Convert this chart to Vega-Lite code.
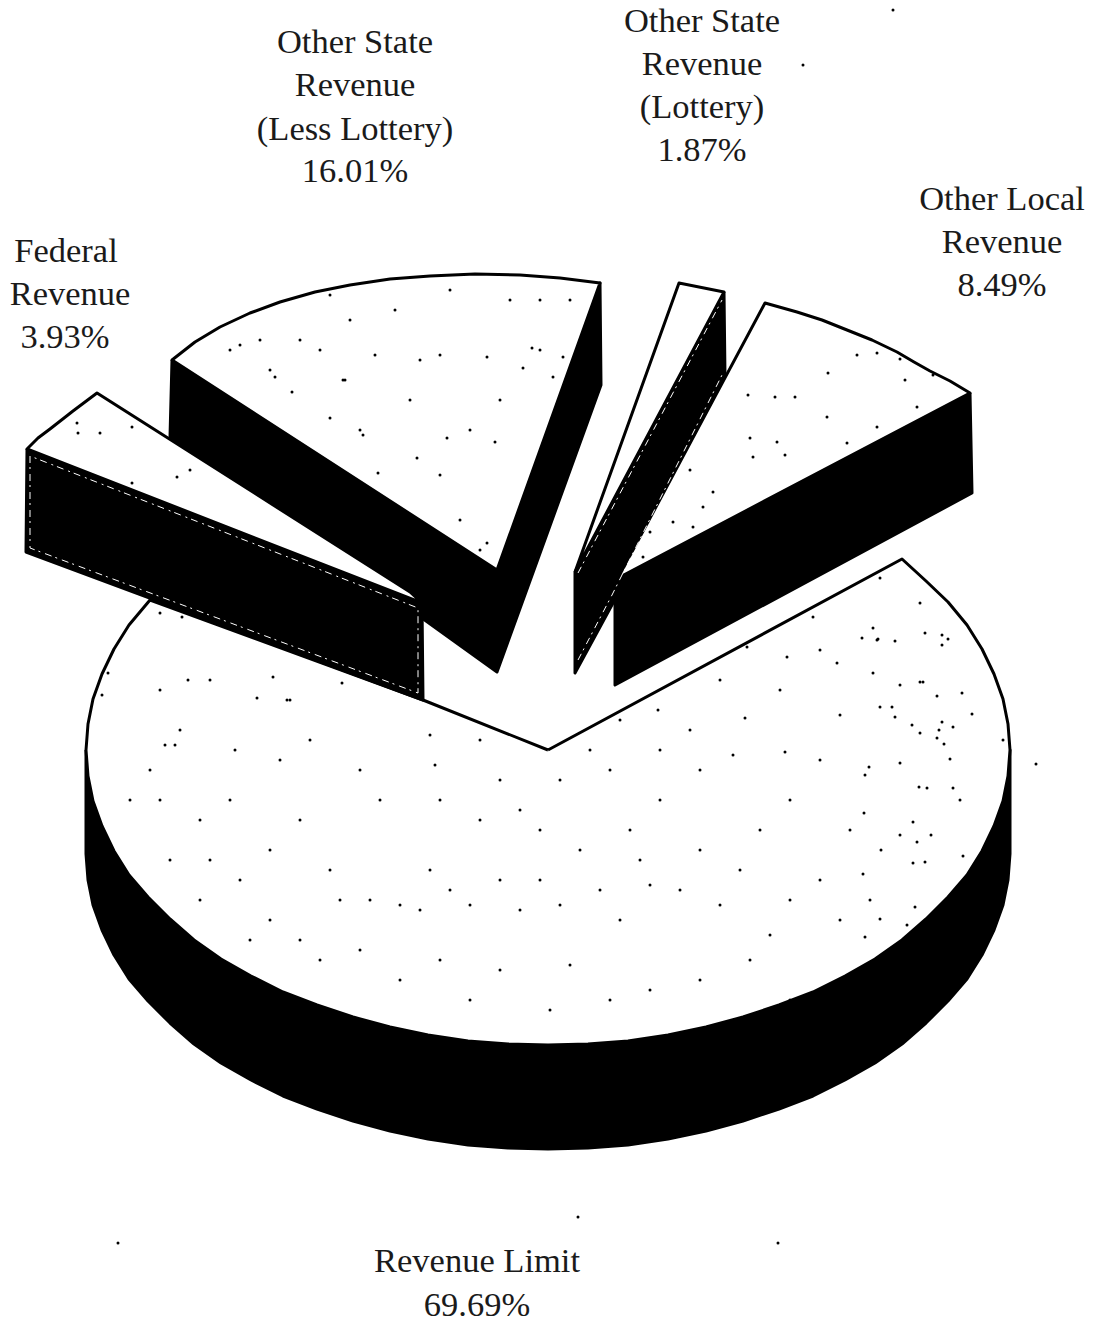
{
"$schema":"https://vega.github.io/schema/vega-lite/v6.json",
"width":1097,"height":1323,"padding":0,"autosize":{"type":"none"},
"background":"white","config":{"view":{"stroke":null}},
"encoding":{
 "x":{"field":"x","type":"quantitative","scale":{"domain":[0,1097],"range":[0,1097],"nice":false,"zero":false},"axis":null},
 "y":{"field":"y","type":"quantitative","scale":{"domain":[0,1323],"range":[0,1323],"nice":false,"zero":false},"axis":null}
},
"datasets":{
"shapes":[
{"part":"limit side","tone":"side","i":0,"x":86,"y":750},{"part":"limit side","tone":"side","i":1,"x":86,"y":854},{"part":"limit side","tone":"side","i":2,"x":88,"y":880},{"part":"limit side","tone":"side","i":3,"x":93,"y":905},{"part":"limit side","tone":"side","i":4,"x":102,"y":930},{"part":"limit side","tone":"side","i":5,"x":114,"y":955},{"part":"limit side","tone":"side","i":6,"x":129,"y":979},{"part":"limit side","tone":"side","i":7,"x":148,"y":1001},{"part":"limit side","tone":"side","i":8,"x":170,"y":1023},{"part":"limit side","tone":"side","i":9,"x":194,"y":1044},{"part":"limit side","tone":"side","i":10,"x":221,"y":1063},{"part":"limit side","tone":"side","i":11,"x":251,"y":1080},{"part":"limit side","tone":"side","i":12,"x":283,"y":1096},{"part":"limit side","tone":"side","i":13,"x":317,"y":1109},{"part":"limit side","tone":"side","i":14,"x":353,"y":1121},{"part":"limit side","tone":"side","i":15,"x":390,"y":1131},{"part":"limit side","tone":"side","i":16,"x":428,"y":1139},{"part":"limit side","tone":"side","i":17,"x":468,"y":1145},{"part":"limit side","tone":"side","i":18,"x":508,"y":1148},{"part":"limit side","tone":"side","i":19,"x":548,"y":1149},{"part":"limit side","tone":"side","i":20,"x":588,"y":1148},{"part":"limit side","tone":"side","i":21,"x":628,"y":1145},{"part":"limit side","tone":"side","i":22,"x":668,"y":1139},{"part":"limit side","tone":"side","i":23,"x":706,"y":1131},{"part":"limit side","tone":"side","i":24,"x":743,"y":1121},{"part":"limit side","tone":"side","i":25,"x":779,"y":1109},{"part":"limit side","tone":"side","i":26,"x":813,"y":1096},{"part":"limit side","tone":"side","i":27,"x":845,"y":1080},{"part":"limit side","tone":"side","i":28,"x":875,"y":1063},{"part":"limit side","tone":"side","i":29,"x":902,"y":1044},{"part":"limit side","tone":"side","i":30,"x":926,"y":1023},{"part":"limit side","tone":"side","i":31,"x":948,"y":1001},{"part":"limit side","tone":"side","i":32,"x":967,"y":979},{"part":"limit side","tone":"side","i":33,"x":982,"y":955},{"part":"limit side","tone":"side","i":34,"x":994,"y":930},{"part":"limit side","tone":"side","i":35,"x":1003,"y":905},{"part":"limit side","tone":"side","i":36,"x":1008,"y":880},{"part":"limit side","tone":"side","i":37,"x":1010,"y":854},{"part":"limit side","tone":"side","i":38,"x":1010,"y":750},{"part":"limit side","tone":"side","i":39,"x":86,"y":750},
{"part":"limit top","tone":"face","i":0,"x":548,"y":750},{"part":"limit top","tone":"face","i":1,"x":902,"y":559},{"part":"limit top","tone":"face","i":2,"x":926,"y":581},{"part":"limit top","tone":"face","i":3,"x":948,"y":602},{"part":"limit top","tone":"face","i":4,"x":967,"y":625},{"part":"limit top","tone":"face","i":5,"x":982,"y":649},{"part":"limit top","tone":"face","i":6,"x":994,"y":674},{"part":"limit top","tone":"face","i":7,"x":1003,"y":699},{"part":"limit top","tone":"face","i":8,"x":1008,"y":724},{"part":"limit top","tone":"face","i":9,"x":1010,"y":750},{"part":"limit top","tone":"face","i":10,"x":1008,"y":776},{"part":"limit top","tone":"face","i":11,"x":1003,"y":801},{"part":"limit top","tone":"face","i":12,"x":994,"y":826},{"part":"limit top","tone":"face","i":13,"x":982,"y":851},{"part":"limit top","tone":"face","i":14,"x":967,"y":875},{"part":"limit top","tone":"face","i":15,"x":948,"y":897},{"part":"limit top","tone":"face","i":16,"x":926,"y":919},{"part":"limit top","tone":"face","i":17,"x":902,"y":940},{"part":"limit top","tone":"face","i":18,"x":875,"y":959},{"part":"limit top","tone":"face","i":19,"x":845,"y":976},{"part":"limit top","tone":"face","i":20,"x":813,"y":992},{"part":"limit top","tone":"face","i":21,"x":779,"y":1005},{"part":"limit top","tone":"face","i":22,"x":743,"y":1017},{"part":"limit top","tone":"face","i":23,"x":706,"y":1027},{"part":"limit top","tone":"face","i":24,"x":668,"y":1035},{"part":"limit top","tone":"face","i":25,"x":628,"y":1041},{"part":"limit top","tone":"face","i":26,"x":588,"y":1044},{"part":"limit top","tone":"face","i":27,"x":548,"y":1045},{"part":"limit top","tone":"face","i":28,"x":508,"y":1044},{"part":"limit top","tone":"face","i":29,"x":468,"y":1041},{"part":"limit top","tone":"face","i":30,"x":428,"y":1035},{"part":"limit top","tone":"face","i":31,"x":390,"y":1027},{"part":"limit top","tone":"face","i":32,"x":353,"y":1017},{"part":"limit top","tone":"face","i":33,"x":317,"y":1005},{"part":"limit top","tone":"face","i":34,"x":283,"y":992},{"part":"limit top","tone":"face","i":35,"x":251,"y":976},{"part":"limit top","tone":"face","i":36,"x":221,"y":959},{"part":"limit top","tone":"face","i":37,"x":194,"y":940},{"part":"limit top","tone":"face","i":38,"x":170,"y":919},{"part":"limit top","tone":"face","i":39,"x":148,"y":897},{"part":"limit top","tone":"face","i":40,"x":129,"y":875},{"part":"limit top","tone":"face","i":41,"x":114,"y":851},{"part":"limit top","tone":"face","i":42,"x":102,"y":826},{"part":"limit top","tone":"face","i":43,"x":93,"y":801},{"part":"limit top","tone":"face","i":44,"x":88,"y":776},{"part":"limit top","tone":"face","i":45,"x":86,"y":750},{"part":"limit top","tone":"face","i":46,"x":88,"y":724},{"part":"limit top","tone":"face","i":47,"x":93,"y":699},{"part":"limit top","tone":"face","i":48,"x":102,"y":674},{"part":"limit top","tone":"face","i":49,"x":114,"y":649},{"part":"limit top","tone":"face","i":50,"x":129,"y":625},{"part":"limit top","tone":"face","i":51,"x":150,"y":600},{"part":"limit top","tone":"face","i":52,"x":423,"y":700},{"part":"limit top","tone":"face","i":53,"x":548,"y":750},
{"part":"state side","tone":"side","i":0,"x":172,"y":360},{"part":"state side","tone":"side","i":1,"x":170,"y":437},{"part":"state side","tone":"side","i":2,"x":497,"y":672},{"part":"state side","tone":"side","i":3,"x":601,"y":385},{"part":"state side","tone":"side","i":4,"x":600,"y":283},{"part":"state side","tone":"side","i":5,"x":497,"y":570},{"part":"state side","tone":"side","i":6,"x":172,"y":360},
{"part":"state top","tone":"face","i":0,"x":497,"y":570},{"part":"state top","tone":"face","i":1,"x":172,"y":360},{"part":"state top","tone":"face","i":2,"x":195,"y":342},{"part":"state top","tone":"face","i":3,"x":220,"y":327},{"part":"state top","tone":"face","i":4,"x":250,"y":313},{"part":"state top","tone":"face","i":5,"x":280,"y":302},{"part":"state top","tone":"face","i":6,"x":315,"y":292},{"part":"state top","tone":"face","i":7,"x":350,"y":285},{"part":"state top","tone":"face","i":8,"x":390,"y":279},{"part":"state top","tone":"face","i":9,"x":430,"y":276},{"part":"state top","tone":"face","i":10,"x":475,"y":274},{"part":"state top","tone":"face","i":11,"x":520,"y":275},{"part":"state top","tone":"face","i":12,"x":560,"y":278},{"part":"state top","tone":"face","i":13,"x":600,"y":283},{"part":"state top","tone":"face","i":14,"x":497,"y":570},
{"part":"lottery side","tone":"side","i":0,"x":724,"y":292},{"part":"lottery side","tone":"side","i":1,"x":725,"y":377},{"part":"lottery side","tone":"side","i":2,"x":613,"y":603},{"part":"lottery side","tone":"side","i":3,"x":575,"y":673},{"part":"lottery side","tone":"side","i":4,"x":575,"y":572},{"part":"lottery side","tone":"side","i":5,"x":724,"y":292},
{"part":"lottery top","tone":"face","i":0,"x":575,"y":572},{"part":"lottery top","tone":"face","i":1,"x":679,"y":283},{"part":"lottery top","tone":"face","i":2,"x":724,"y":292},{"part":"lottery top","tone":"face","i":3,"x":575,"y":572},
{"part":"local side","tone":"side","i":0,"x":970,"y":393},{"part":"local side","tone":"side","i":1,"x":972,"y":493},{"part":"local side","tone":"side","i":2,"x":615,"y":685},{"part":"local side","tone":"side","i":3,"x":615,"y":580},{"part":"local side","tone":"side","i":4,"x":970,"y":393},
{"part":"local top","tone":"face","i":0,"x":618,"y":578},{"part":"local top","tone":"face","i":1,"x":765,"y":303},{"part":"local top","tone":"face","i":2,"x":797,"y":312},{"part":"local top","tone":"face","i":3,"x":822,"y":320},{"part":"local top","tone":"face","i":4,"x":847,"y":330},{"part":"local top","tone":"face","i":5,"x":872,"y":340},{"part":"local top","tone":"face","i":6,"x":897,"y":352},{"part":"local top","tone":"face","i":7,"x":914,"y":362},{"part":"local top","tone":"face","i":8,"x":930,"y":371},{"part":"local top","tone":"face","i":9,"x":950,"y":381},{"part":"local top","tone":"face","i":10,"x":970,"y":393},{"part":"local top","tone":"face","i":11,"x":618,"y":578},
{"part":"federal side","tone":"side","i":0,"x":27,"y":449},{"part":"federal side","tone":"side","i":1,"x":26,"y":552},{"part":"federal side","tone":"side","i":2,"x":423,"y":700},{"part":"federal side","tone":"side","i":3,"x":422,"y":603},{"part":"federal side","tone":"side","i":4,"x":27,"y":449},
{"part":"federal top","tone":"face","i":0,"x":422,"y":603},{"part":"federal top","tone":"face","i":1,"x":410,"y":592},{"part":"federal top","tone":"face","i":2,"x":97,"y":393},{"part":"federal top","tone":"face","i":3,"x":73,"y":411},{"part":"federal top","tone":"face","i":4,"x":50,"y":429},{"part":"federal top","tone":"face","i":5,"x":38,"y":438},{"part":"federal top","tone":"face","i":6,"x":27,"y":449},{"part":"federal top","tone":"face","i":7,"x":422,"y":603}
],
"seams":[
{"part":"federal","i":0,"x":30,"y":456},{"part":"federal","i":1,"x":30,"y":548},{"part":"federal","i":2,"x":418,"y":693},{"part":"federal","i":3,"x":418,"y":608},{"part":"federal","i":4,"x":30,"y":456},
{"part":"lottery","i":0,"x":578,"y":660},{"part":"lottery","i":1,"x":612,"y":595},{"part":"lottery","i":2,"x":722,"y":375},
{"part":"lottery2","i":0,"x":578,"y":573},{"part":"lottery2","i":1,"x":722,"y":300}
],
"specks":[
{"x":873,"y":628},{"x":862,"y":638},{"x":878,"y":639},{"x":895,"y":641},{"x":925,"y":633},{"x":942,"y":635},{"x":948,"y":639},{"x":942,"y":645},{"x":873,"y":673},{"x":923,"y":682},{"x":900,"y":685},{"x":937,"y":696},{"x":962,"y":693},{"x":972,"y":714},{"x":880,"y":707},{"x":892,"y":707},{"x":895,"y":717},{"x":912,"y":725},{"x":920,"y":733},{"x":942,"y":722},{"x":953,"y":727},{"x":939,"y":730},{"x":937,"y":738},{"x":944,"y":744},{"x":1003,"y":740},{"x":950,"y":759},{"x":900,"y":763},{"x":869,"y":767},{"x":865,"y":775},{"x":919,"y":787},{"x":927,"y":788},{"x":953,"y":788},{"x":864,"y":813},{"x":913,"y":822},{"x":900,"y":835},{"x":931,"y":835},{"x":917,"y":842},{"x":881,"y":850},{"x":963,"y":856},{"x":913,"y":863},{"x":925,"y":862},{"x":863,"y":874},{"x":870,"y":900},{"x":915,"y":907},{"x":880,"y":919},{"x":907,"y":925},{"x":865,"y":937},
{"x":658,"y":710},{"x":820,"y":650},{"x":747,"y":647},{"x":840,"y":715},{"x":745,"y":718},{"x":785,"y":752},{"x":733,"y":755},{"x":660,"y":750},{"x":837,"y":663},{"x":877,"y":640},{"x":787,"y":657},{"x":920,"y":603},{"x":880,"y":578},{"x":813,"y":617},{"x":920,"y":682},
{"x":750,"y":438},{"x":777,"y":442},{"x":828,"y":373},{"x":857,"y":355},{"x":877,"y":353},{"x":900,"y":359},{"x":933,"y":375},{"x":905,"y":380},{"x":775,"y":397},{"x":795,"y":397},{"x":748,"y":395},{"x":827,"y":417},{"x":785,"y":455},{"x":753,"y":457},{"x":877,"y":427},{"x":847,"y":443},{"x":713,"y":492},{"x":703,"y":507},{"x":690,"y":470},{"x":917,"y":407},{"x":673,"y":522},{"x":693,"y":527},{"x":650,"y":532},{"x":643,"y":557},
{"x":597,"y":302},{"x":563,"y":357},{"x":532,"y":348},{"x":487,"y":357},{"x":523,"y":368},{"x":487,"y":543},{"x":495,"y":442},{"x":553,"y":377},{"x":345,"y":380},{"x":300,"y":340},{"x":230,"y":350},{"x":420,"y":360},{"x":360,"y":430},{"x":440,"y":475},{"x":480,"y":550},{"x":460,"y":520},{"x":270,"y":370},{"x":395,"y":310},{"x":450,"y":290},{"x":510,"y":300},{"x":540,"y":350},{"x":330,"y":295},{"x":260,"y":340},{"x":410,"y":400},{"x":240,"y":345},{"x":320,"y":350},{"x":375,"y":355},{"x":440,"y":355},{"x":500,"y":400},{"x":470,"y":430},{"x":540,"y":300},{"x":570,"y":300},{"x":350,"y":320},
{"x":77,"y":423},{"x":78,"y":433},{"x":100,"y":433},{"x":132,"y":427},{"x":177,"y":477},{"x":190,"y":470},{"x":132,"y":483},{"x":275,"y":377},{"x":292,"y":392},{"x":343,"y":380},{"x":330,"y":418},{"x":363,"y":435},{"x":447,"y":438},{"x":417,"y":458},{"x":408,"y":517},{"x":378,"y":473},
{"x":210,"y":680},{"x":273,"y":677},{"x":287,"y":700},{"x":257,"y":698},{"x":342,"y":683},{"x":160,"y":613},{"x":182,"y":617},{"x":188,"y":680},{"x":108,"y":673},{"x":102,"y":695},
{"x":435,"y":765},{"x":430,"y":735},{"x":180,"y":730},{"x":165,"y":745},{"x":290,"y":700},{"x":130,"y":800},{"x":160,"y":800},{"x":235,"y":750},{"x":300,"y":820},{"x":270,"y":920},{"x":200,"y":900},{"x":340,"y":900},{"x":400,"y":905},{"x":450,"y":890},{"x":500,"y":880},{"x":540,"y":880},{"x":600,"y":890},{"x":650,"y":885},{"x":720,"y":905},{"x":790,"y":900},{"x":840,"y":920},{"x":480,"y":820},{"x":520,"y":810},{"x":580,"y":850},{"x":630,"y":830},{"x":700,"y":770},{"x":790,"y":800},{"x":820,"y":760},{"x":470,"y":1000},{"x":550,"y":1010},{"x":650,"y":990},{"x":750,"y":960},{"x":790,"y":1000},{"x":400,"y":980},{"x":320,"y":960},{"x":250,"y":940},{"x":200,"y":820},{"x":380,"y":800},{"x":280,"y":760},{"x":160,"y":690},{"x":480,"y":740},{"x":560,"y":780},{"x":610,"y":770},{"x":660,"y":800},{"x":850,"y":830},{"x":960,"y":800},
{"x":175,"y":745},{"x":150,"y":770},{"x":230,"y":800},{"x":270,"y":850},{"x":330,"y":870},{"x":370,"y":900},{"x":420,"y":910},{"x":430,"y":870},{"x":470,"y":905},{"x":520,"y":910},{"x":560,"y":905},{"x":620,"y":920},{"x":680,"y":890},{"x":740,"y":870},{"x":760,"y":830},{"x":700,"y":850},{"x":640,"y":860},{"x":540,"y":830},{"x":500,"y":780},{"x":440,"y":800},{"x":360,"y":770},{"x":310,"y":740},{"x":210,"y":860},{"x":240,"y":880},{"x":170,"y":860},{"x":300,"y":940},{"x":360,"y":950},{"x":440,"y":960},{"x":500,"y":970},{"x":570,"y":965},{"x":610,"y":1000},{"x":700,"y":980},{"x":770,"y":935},{"x":820,"y":880},{"x":780,"y":690},{"x":720,"y":680},{"x":690,"y":730},{"x":620,"y":720},{"x":590,"y":750},
{"x":893,"y":10},{"x":803,"y":65},{"x":1036,"y":764},{"x":118,"y":1243},{"x":578,"y":1217},{"x":778,"y":1243}
],
"labels":[
{"label":"Other State","x":355,"y":43},{"label":"Revenue","x":355,"y":86},{"label":"(Less Lottery)","x":355,"y":130},{"label":"16.01%","x":355,"y":172},
{"label":"Other State","x":702,"y":22},{"label":"Revenue","x":702,"y":65},{"label":"(Lottery)","x":702,"y":108},{"label":"1.87%","x":702,"y":151},
{"label":"Other Local","x":1002,"y":200},{"label":"Revenue","x":1002,"y":243},{"label":"8.49%","x":1002,"y":286},
{"label":"Federal","x":66,"y":252},{"label":"Revenue","x":70,"y":295},{"label":"3.93%","x":65,"y":338},
{"label":"Revenue Limit","x":477,"y":1262},{"label":"69.69%","x":477,"y":1306}
]},
"layer":[
{"data":{"name":"shapes"},
 "mark":{"type":"line","stroke":"black","strokeWidth":3,"strokeJoin":"round"},
 "encoding":{
  "detail":{"field":"part"},
  "order":{"field":"i","type":"ordinal"},
  "fill":{"field":"tone","type":"nominal","scale":{"domain":["face","side"],"range":["white","black"]},"legend":null}
 }},
{"data":{"name":"seams"},
 "mark":{"type":"line","stroke":"white","strokeWidth":1,"strokeDash":[7,4,2,5]},
 "encoding":{
  "detail":{"field":"part"},
  "order":{"field":"i","type":"ordinal"}
 }},
{"data":{"name":"specks"},
 "mark":{"type":"point","filled":true,"fill":"black","stroke":null,"size":9,"opacity":1},
 "encoding":{}},
{"data":{"name":"labels"},
 "mark":{"type":"text","font":"Liberation Serif","fontSize":34.5,"fill":"#1a1a1a","align":"center","baseline":"middle"},
 "encoding":{"text":{"field":"label"}}}
]
}
